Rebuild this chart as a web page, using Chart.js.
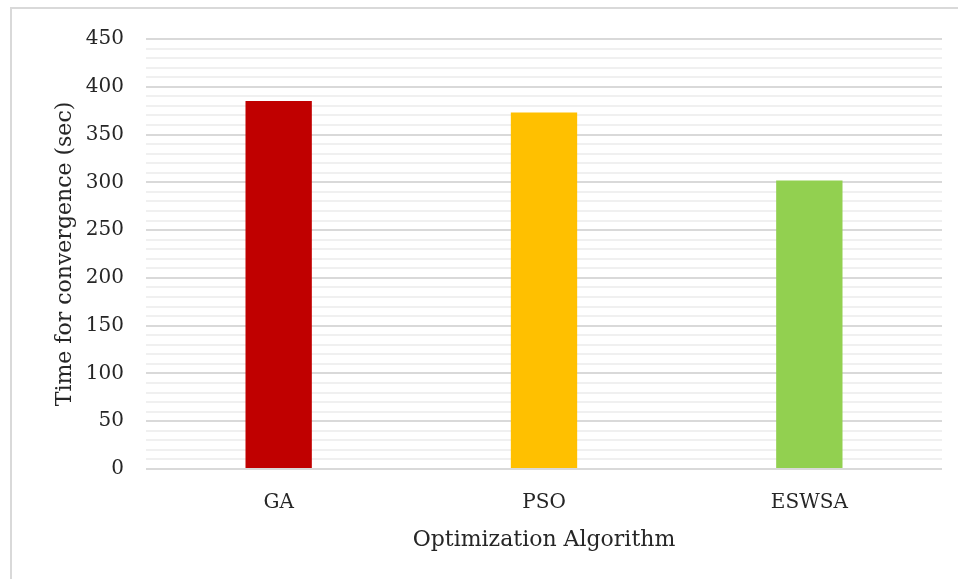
<!DOCTYPE html>
<html>
<head>
<meta charset="utf-8">
<script src="https://cdn.jsdelivr.net/npm/chart.js@4/dist/chart.umd.min.js"></script>
<style>
html,body{margin:0;padding:0;background:#fff;}
#wrap{position:absolute;left:0;top:0;width:958px;height:579px;}
</style>
</head>
<body>
<div id="wrap"><canvas id="c" width="958" height="579"></canvas></div>
<script>
const categories = ["GA", "PSO", "ESWSA"];
const values = [385, 373, 302];
const barColors = ["#C00000", "#FFC000", "#92D050"];
const yMin = 0, yMax = 450, yMinorStep = 10, yMajorStep = 50;
const xTitle = "Optimization Algorithm";
const yTitle = "Time for convergence (sec)";

const FONT = "'DejaVu Serif', serif";

const borderPlugin = {
  id: 'outerBorder',
  beforeDraw(chart) {
    const ctx = chart.ctx;
    ctx.save();
    ctx.fillStyle = '#fff';
    ctx.fillRect(0, 0, chart.width, chart.height);
    ctx.strokeStyle = '#d9d9d9';
    ctx.lineWidth = 2;
    ctx.strokeRect(11, 8, chart.width + 10, chart.height + 10);
    ctx.restore();
  }
};

new Chart(document.getElementById('c'), {
  type: 'bar',
  data: {
    labels: categories,
    datasets: [{
      data: values,
      backgroundColor: barColors,
      borderWidth: 0,
      categoryPercentage: 1.0,
      barPercentage: 0.25
    }]
  },
  options: {
    responsive: false,
    animation: false,
    plugins: { legend: { display: false }, tooltip: { enabled: false } },
    layout: { padding: { left: 48, right: 16, top: 39, bottom: 22 } },
    scales: {
      x: {
        afterFit: s => { s.height = 88; },
        grid: { display: false },
        border: { display: false },
        ticks: { color: '#262626', font: { family: FONT, size: 20 }, padding: 14 },
        title: { display: true, text: xTitle, color: '#262626', font: { family: FONT, size: 22 }, padding: { top: 2 } }
      },
      y: {
        min: yMin, max: yMax,
        afterFit: s => { s.width = 98; },
        border: { display: false },
        grid: {
          drawTicks: false,
          color: ctx => (ctx.tick && ctx.tick.value % yMajorStep === 0) ? '#d9d9d9' : '#f0f0f0',
          lineWidth: 2
        },
        ticks: {
          stepSize: yMinorStep,
          autoSkip: false,
          padding: 22,
          color: '#262626',
          font: { family: FONT, size: 20 },
          callback: v => (v % yMajorStep === 0) ? String(v) : ''
        },
        title: { display: true, text: yTitle, color: '#262626', font: { family: FONT, size: 22 }, padding: { bottom: 4 } }
      }
    }
  },
  plugins: [borderPlugin]
});
</script>
</body>
</html>
